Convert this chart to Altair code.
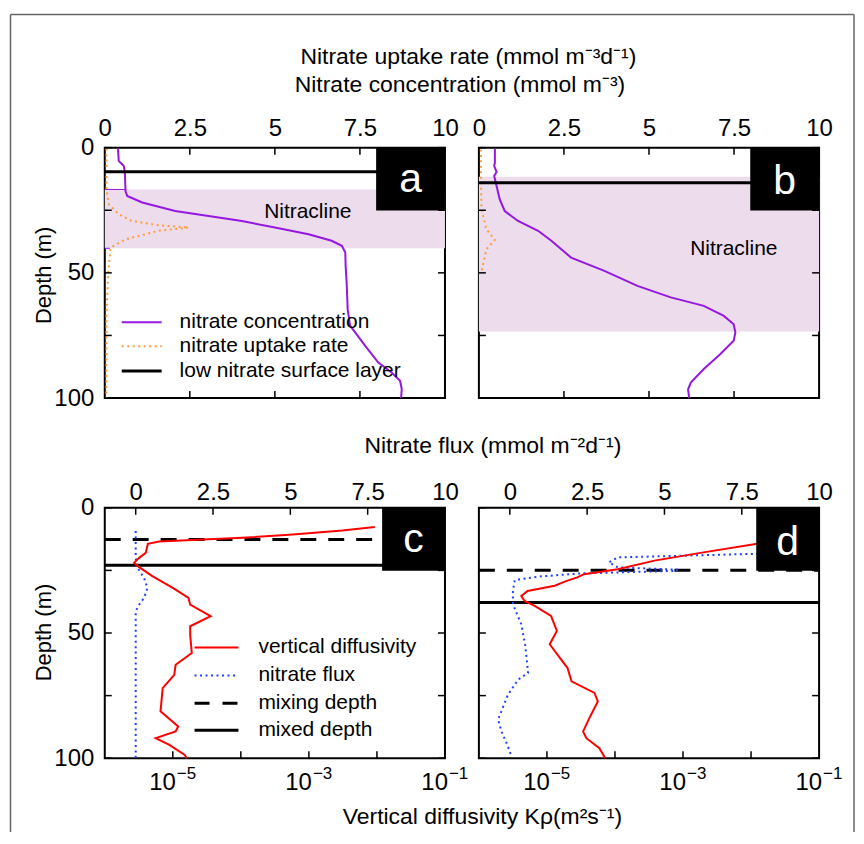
import altair as alt
import pandas as pd

FONT = "Liberation Sans"
W, H = 341, 251

# ---------------- data ----------------
# Panel a : nitrate concentration / uptake rate vs depth
a_conc_depth = [0.4, 5.3, 7.3, 10, 17.3, 19.3, 21.9, 25.3, 27.3, 29.3, 31.9, 34.6, 37.2, 39.2, 41.9,
                47.2, 53.9, 64.5, 71.1, 73.8, 79.1, 85.8, 89.8, 93.1, 96.4, 100]
a_conc = [0.39, 0.41, 0.56, 0.59, 0.61, 0.66, 1.1, 2.07, 3.05, 4.03, 5.0, 5.99, 6.67, 6.97, 7.07,
          7.08, 7.11, 7.14, 7.21, 7.36, 7.65, 8.04, 8.43, 8.68, 8.73, 8.71]
a_upt_depth = [0.4, 16.6, 22.6, 26.6, 29.3, 31.0, 31.9, 33.2, 36.6, 39.9, 49.9, 67.2, 100]
a_upt = [0.05, 0.05, 0.12, 0.41, 0.8, 1.59, 2.47, 1.59, 0.61, 0.17, 0.1, 0.05, 0.05]
a_band = [16.7, 40.2]
a_surface = 9.6

# Panel b
b_conc_depth = [0.4, 6, 7.3, 9.7, 11.3, 15.3, 20.6, 25.3, 29.3, 33.2, 37.2, 43.9, 49.2, 55.2, 59.8,
                63.2, 67.2, 70.5, 73.8, 77.1, 82.4, 88.4, 93.8, 96.4, 100]
b_conc = [0.47, 0.47, 0.45, 0.52, 0.45, 0.52, 0.61, 0.76, 1.15, 1.74, 2.13, 2.71, 3.69, 4.66, 5.64,
          6.61, 7.2, 7.49, 7.54, 7.49, 7.1, 6.61, 6.23, 6.15, 6.18]
b_upt_depth = [0.7, 14, 24.6, 32.6, 36.8, 40.6, 49.2]
b_upt = [0.06, 0.06, 0.08, 0.22, 0.47, 0.22, 0.08]
b_band = [11.6, 73.4]
b_surface = 14.0

# Panel c : vertical diffusivity (log) and nitrate flux vs depth
c_kz_depth = [7.7, 9.1, 10.7, 12.0, 12.9, 13.5, 14.4, 18, 20, 22, 23.7, 27.3, 32, 36, 38.7, 43.3,
              47.3, 50.7, 58, 62.7, 66.7, 72, 81.3, 87.3, 89.3, 92, 94.7, 98.7, 100]
c_kz = [9.3e-3, 3.1e-3, 5.8e-4, 1.05e-4, 1.9e-5, 6.3e-6, 4.3e-6, 4.0e-6, 3.2e-6, 2.7e-6, 3.2e-6,
        5.0e-6, 1.0e-5, 1.7e-5, 1.8e-5, 3.6e-5, 1.8e-5, 1.8e-5, 1.9e-5, 1.1e-5, 1.05e-5, 7.1e-6,
        6.6e-6, 1.2e-5, 1.1e-5, 5.6e-6, 8.9e-6, 1.5e-5, 1.6e-5]
c_flux_depth = [9.3, 20, 24, 28, 32, 36, 38.7, 41.3, 60, 100]
c_flux = [0.0, 0.0, 0.06, 0.27, 0.38, 0.27, 0.11, 0.0, 0.0, 0.0]
c_mixing = 12.7
c_mixed = 22.9

# Panel d
d_kz_depth = [13.0, 14.4, 17.8, 21.1, 24.5, 26.5, 27.8, 29.1, 31.1, 33.2, 35.2, 37.2, 39.2, 43.2,
              49.2, 54.5, 59.9, 63.9, 69.3, 73.9, 77.3, 84, 89.3, 92, 96, 100]
d_kz = [8.0e-2, 1.23e-2, 2.0e-3, 3.8e-4, 1.1e-4, 3.5e-5, 2.8e-5, 2.0e-5, 1.3e-5, 5.2e-6, 4.2e-6,
        4.7e-6, 6.6e-6, 1.15e-5, 1.4e-5, 1.1e-5, 1.55e-5, 2.0e-5, 2.3e-5, 5.0e-5, 5.6e-5, 4.2e-5,
        3.4e-5, 3.8e-5, 5.9e-5, 7.2e-5]
d_flux_depth = [12.0, 18.2, 19.8, 21.8, 23.8, 24.7, 25.2, 25.7, 26.2, 27.5, 28.9, 33.2, 38.5, 46.5,
                55.0, 65.9, 68.6, 74.6, 84.6, 89.3, 95.3, 99.3]
d_flux = [9.9, 8.5, 3.5, 3.2, 3.5, 5.4, 5.4, 3.8, 2.3, 0.9, 0.16, 0.1, 0.1, 0.37, 0.5, 0.59, 0.27,
          -0.06, -0.38, -0.27, -0.06, 0.05]
d_mixing = 24.9
d_mixed = 37.8

depth_ticks = [0, 25, 50, 75, 100]
depth_labels = [0, 50, 100]
lin_labels = [0, 2.5, 5, 7.5, 10]
lin_ticks = [2.5, 5, 7.5]
flux_ticks = [0, 2.5, 5, 7.5]
log_ticks = [1e-5, 1e-4, 1e-3, 1e-2]
log_labels = [1e-5, 1e-3, 1e-1]
log_base = ["10", "10", "10"]
log_exp = ["\u22125", "\u22123", "\u22121"]

legend_top = ["nitrate concentration", "nitrate uptake rate", "low nitrate surface layer"]
legend_bot = ["vertical diffusivity", "nitrate flux", "mixing depth", "mixed depth"]

title_top1 = "Nitrate uptake rate (mmol m\u207b\u00b3d\u207b\u00b9)"
title_top2 = "Nitrate concentration (mmol m\u207b\u00b3)"
title_mid = "Nitrate flux (mmol m\u207b\u00b2d\u207b\u00b9)"
title_bot = "Vertical diffusivity K\u03c1(m\u00b2s\u207b\u00b9)"
title_y = "Depth (m)"

PURPLE = "#9418e0"
ORANGE = "#ff9c3a"
RED = "#ff0000"
BLUE = "#2040ff"
BAND = "#ecdcec"
FRAME = "#666666"

# ---------------- helpers ----------------
YS = alt.Scale(domain=[0, 100], reverse=True, nice=False, zero=False)


def Y(field, show):
    if show:
        ax = alt.Axis(orient="left", values=depth_labels, labelPadding=11, title=None)
    else:
        ax = None
    return alt.Y(f"{field}:Q", scale=YS, axis=ax)


XS_TOP = alt.Scale(domain=[0, 10], nice=False, zero=False)
AX_TOP = alt.Axis(orient="top", values=lin_labels, format=".1~f", labelPadding=7, title=None)
XS_FLUX = alt.Scale(domain=[-1, 10], nice=False, zero=False)
AX_FLUX = alt.Axis(orient="top", values=lin_labels, format=".1~f", labelPadding=3, title=None)
XS_LOG = alt.Scale(type="log", domain=[1e-6, 1e-1], nice=False)


def one():
    return pd.DataFrame({"k": [0]})


def const_rule(color, width, x, x2, y, dash=None):
    mk = dict(color=color, strokeWidth=width)
    if dash:
        mk["strokeDash"] = dash
    return alt.Chart(one()).mark_rule(**mk).encode(x=alt.value(x), x2=alt.value(x2), y=alt.value(y))


def const_vrule(color, width, x, y, y2):
    return alt.Chart(one()).mark_rule(color=color, strokeWidth=width).encode(
        x=alt.value(x), y=alt.value(y), y2=alt.value(y2))


def const_text(txt, x, y, size, color="black", align="center", baseline="alphabetic", angle=None):
    mk = dict(font=FONT, fontSize=size, color=color, align=align, baseline=baseline)
    if angle is not None:
        mk["angle"] = angle
    return alt.Chart(pd.DataFrame({"t": [txt]})).mark_text(**mk).encode(
        text="t:N", x=alt.value(x), y=alt.value(y))


def box(bw, bh):
    return alt.Chart(one()).mark_rect(color="black").encode(
        x=alt.value(W - bw), x2=alt.value(W), y=alt.value(0), y2=alt.value(bh))


def depth_ticks_layers(show):
    df = pd.DataFrame({"depth": depth_ticks})
    left = alt.Chart(df).mark_rule(color="black", strokeWidth=1.5).encode(
        x=alt.value(0), x2=alt.value(7), y=Y("depth", show))
    right = alt.Chart(df).mark_rule(color="black", strokeWidth=1.5).encode(
        x=alt.value(W - 7), x2=alt.value(W), y=Y("depth", show))
    return [left, right]


def hrule(depth, show, dash=None, width=3):
    mk = dict(color="black", strokeWidth=width)
    if dash:
        mk["strokeDash"] = dash
    return alt.Chart(pd.DataFrame({"depth": [depth]})).mark_rule(**mk).encode(
        x=alt.value(0), x2=alt.value(W), y=Y("depth", show))


def top_panel(conc_d, conc, upt_d, upt, band, surface, show, letter, letter_base, nit_x, nit_y):
    XT = lambda f: alt.X(f"{f}:Q", scale=XS_TOP, axis=AX_TOP)
    layers = []
    layers.append(alt.Chart(pd.DataFrame({"top": [band[0]], "bot": [band[1]]})).mark_rect(color=BAND).encode(
        x=alt.value(0), x2=alt.value(W), y=Y("top", show), y2="bot:Q"))
    layers.append(alt.Chart(pd.DataFrame({"depth": upt_d, "val": upt})).mark_line(
        color=ORANGE, strokeWidth=2, strokeDash=[2, 3.5]).encode(
        x=XT("val"), y=Y("depth", show), order="depth:Q"))
    layers.append(alt.Chart(pd.DataFrame({"depth": conc_d, "val": conc})).mark_line(
        color=PURPLE, strokeWidth=2).encode(x=XT("val"), y=Y("depth", show), order="depth:Q"))
    layers.append(hrule(surface, show))
    layers += depth_ticks_layers(show)
    tdf = pd.DataFrame({"val": lin_ticks})
    layers.append(alt.Chart(tdf).mark_rule(color="black", strokeWidth=1.5).encode(
        x=XT("val"), y=alt.value(0), y2=alt.value(7)))
    layers.append(alt.Chart(tdf).mark_rule(color="black", strokeWidth=1.5).encode(
        x=XT("val"), y=alt.value(H - 7), y2=alt.value(H)))
    layers.append(const_text("Nitracline", nit_x, nit_y, 21))
    layers.append(box(69, 63))
    layers.append(const_text(letter, W - 34.5, letter_base, 41, color="white"))
    return layers


def bottom_panel(kz_d, kz, fl_d, fl, mixing, mixed, show, letter, letter_base):
    XL = lambda f: alt.X(f"{f}:Q", scale=XS_LOG, axis=None)
    layers = []
    layers.append(hrule(mixing, show, dash=[16, 12]))
    layers.append(hrule(mixed, show))
    layers.append(alt.Chart(pd.DataFrame({"depth": fl_d, "val": fl})).mark_line(
        color=BLUE, strokeWidth=2, strokeDash=[2, 3.5]).encode(
        x=alt.X("val:Q", scale=XS_FLUX, axis=AX_FLUX), y=Y("depth", show), order="depth:Q"))
    layers.append(alt.Chart(pd.DataFrame({"depth": kz_d, "kz": kz})).mark_line(
        color=RED, strokeWidth=2).encode(x=XL("kz"), y=Y("depth", show), order="depth:Q"))
    layers += depth_ticks_layers(show)
    layers.append(alt.Chart(pd.DataFrame({"val": flux_ticks})).mark_rule(color="black", strokeWidth=1.5).encode(
        x=alt.X("val:Q", scale=XS_FLUX, axis=None), y=alt.value(0), y2=alt.value(7)))
    layers.append(alt.Chart(pd.DataFrame({"kz": log_ticks})).mark_rule(color="black", strokeWidth=1.5).encode(
        x=XL("kz"), y=alt.value(H - 7), y2=alt.value(H)))
    # log-axis labels: "10" with a raised exponent
    lab = pd.DataFrame({"kz": log_labels, "base": log_base, "exp": log_exp})
    layers.append(alt.Chart(lab).mark_text(font=FONT, fontSize=24, align="right", baseline="alphabetic", dx=3).encode(
        x=XL("kz"), y=alt.value(H + 32), text="base:N"))
    layers.append(alt.Chart(lab).mark_text(font=FONT, fontSize=17, align="left", baseline="alphabetic", dx=4).encode(
        x=XL("kz"), y=alt.value(H + 21), text="exp:N"))
    layers.append(box(63, 63))
    layers.append(const_text(letter, W - 31.5, letter_base, 41, color="white"))
    return layers


# ---------------- panels ----------------
la = top_panel(a_conc_depth, a_conc, a_upt_depth, a_upt, a_band, a_surface, True, "a", 44, 203.5, 71)
# small purple edge marks of the nitracline band
la.insert(1, alt.Chart(pd.DataFrame({"depth": [a_band[0], a_band[1]], "x0": [0, 0], "x1": [0.6, 0.15]})).mark_rule(
    color=PURPLE, strokeWidth=1).encode(
    x=alt.X("x0:Q", scale=XS_TOP, axis=AX_TOP), x2="x1:Q", y=Y("depth", True)))
# legend a
la += [
    const_rule(PURPLE, 2, 17, 57, 175),
    const_rule(ORANGE, 2, 17, 57, 199, dash=[2, 3.5]),
    const_rule("black", 3, 17, 57, 224),
    const_text(legend_top[0], 75, 181, 21, align="left"),
    const_text(legend_top[1], 75, 205, 21, align="left"),
    const_text(legend_top[2], 75, 230, 21, align="left"),
]
# shared titles and outer frame (positioned relative to panel a)
la += [
    const_text(title_top1, 364.5, -84, 23),
    const_text(title_top2, 356, -56, 23),
    const_text(title_y, -61, 128, 22, baseline="middle", angle=270),
    const_rule(FRAME, 1.5, -94.5, 751, -133.5),
    const_vrule(FRAME, 1.5, -94.5, -133.5, 686),
    const_vrule(FRAME, 1.5, 751, -133.5, 686),
]
pa = alt.layer(*la).properties(width=W, height=H)

lb = top_panel(b_conc_depth, b_conc, b_upt_depth, b_upt, b_band, b_surface, False, "b", 46, 255.5, 107.5)
pb = alt.layer(*lb).properties(width=W, height=H)

lc = bottom_panel(c_kz_depth, c_kz, c_flux_depth, c_flux, c_mixing, c_mixed, True, "c", 44)
lc += [
    const_rule(RED, 2, 90, 134, 140),
    const_rule(BLUE, 2, 90, 134, 168, dash=[2, 3.5]),
    const_rule("black", 3, 90, 134, 196, dash=[15, 13]),
    const_rule("black", 3, 90, 134, 223),
    const_text(legend_bot[0], 154, 146, 21, align="left"),
    const_text(legend_bot[1], 154, 174, 21, align="left"),
    const_text(legend_bot[2], 154, 202, 21, align="left"),
    const_text(legend_bot[3], 154, 229, 21, align="left"),
    const_text(title_mid, 389, -55, 23),
    const_text(title_bot, 378.5, 317, 23),
    const_text(title_y, -61, 125, 22, baseline="middle", angle=270),
]
pc = alt.layer(*lc).resolve_scale(x="independent").properties(width=W, height=H)

ld = bottom_panel(d_kz_depth, d_kz, d_flux_depth, d_flux, d_mixing, d_mixed, False, "d", 47)
pd_ = alt.layer(*ld).resolve_scale(x="independent").properties(width=W, height=H)

chart = alt.concat(
    pa, pb, pc, pd_, columns=2, spacing={"row": 110, "column": 34}, bounds="flush"
).properties(
    padding={"left": 0, "top": 3, "right": 0, "bottom": 0}
).configure_view(
    stroke="black", strokeWidth=2
).configure_axis(
    labelFont=FONT, labelFontSize=24, labelColor="black", domain=False, ticks=False,
    tickSize=0, grid=False, labelFlush=False
)

chart.save("out.html", embed_options={"renderer": "svg", "actions": False})
